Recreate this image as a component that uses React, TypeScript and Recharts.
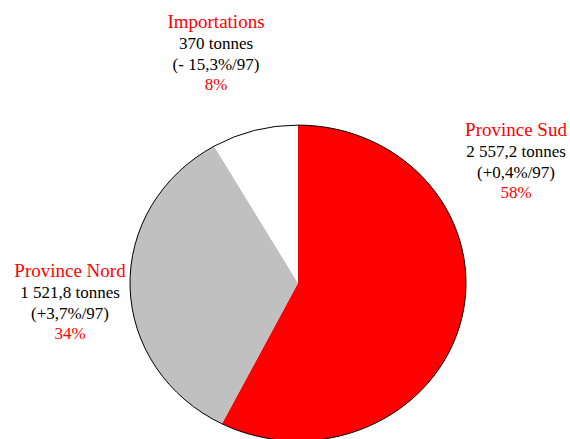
import React from 'react';
import { PieChart, Pie, Cell } from 'recharts';

const regions = ['Province Sud', 'Province Nord', 'Importations'];
const tonnages = [2557.2, 1521.8, 370];
const changes97 = [0.4, 3.7, -15.3];

const sliceColors = ['#FF0000', '#C0C0C0', '#FFFFFF'];

// label blocks sit where Excel dropped them, relative to the pie centre
const labelOffsets = [
  { dx: 218, dy: -147 },
  { dx: -228, dy: -6 },
  { dx: -82, dy: -255 },
];

const SQUASH = 0.94; // the original pie is a slightly flattened ellipse
const RAD = Math.PI / 180;
const FONT = "'Liberation Serif', 'Times New Roman', serif";

const data = regions.map((name, i) => ({ name, value: tonnages[i], change: changes97[i] }));

// whole percentages that add up to 100 (largest remainder), as printed on the original
const total = tonnages.reduce((a, b) => a + b, 0);
const rawPct = tonnages.map((v) => (v / total) * 100);
const roundedPct = rawPct.map(Math.floor);
let left = 100 - roundedPct.reduce((a, b) => a + b, 0);
rawPct
  .map((p, i) => ({ i, r: p - Math.floor(p) }))
  .sort((a, b) => b.r - a.r)
  .forEach(({ i }) => {
    if (left > 0) {
      roundedPct[i] += 1;
      left -= 1;
    }
  });

const formatTonnes = (v: number) => {
  const [i, d] = v.toFixed(1).split('.');
  const int = i.replace(/\B(?=(\d{3})+(?!\d))/g, ' ');
  return d === '0' ? int : `${int},${d}`;
};

const formatChange = (c: number) =>
  `(${c < 0 ? '- ' : '+'}${Math.abs(c).toFixed(1).replace('.', ',')}%/97)`;

const EllipseSector = (props: any) => {
  const { cx, cy, outerRadius, startAngle, endAngle, fill } = props;
  const rx = outerRadius;
  const ry = outerRadius * SQUASH;
  const pt = (a: number) => [cx + rx * Math.cos(-a * RAD), cy + ry * Math.sin(-a * RAD)];
  const [x0, y0] = pt(startAngle);
  const [x1, y1] = pt(endAngle);
  const large = Math.abs(startAngle - endAngle) > 180 ? 1 : 0;
  const sweep = startAngle > endAngle ? 1 : 0;
  const arc = `A ${rx} ${ry} 0 ${large} ${sweep} ${x1} ${y1}`;
  return (
    <g>
      <path d={`M ${cx} ${cy} L ${x0} ${y0} ${arc} Z`} fill={fill} stroke="none" />
      <path d={`M ${x0} ${y0} ${arc}`} fill="none" stroke="#000" strokeWidth={1} />
    </g>
  );
};

const renderLabel = (props: any) => {
  const { cx, cy, index, payload } = props;
  const off = labelOffsets[index];
  const x = cx + off.dx;
  const y = cy + off.dy;
  const item = payload?.payload ?? payload;
  return (
    <text x={x} y={y} textAnchor="middle" fontFamily={FONT} style={{ fontFamily: FONT }}>
      <tspan x={x} fontSize={19} fill="#FF0000" fontFamily={FONT}>{item.name}</tspan>
      <tspan x={x} dy={21} fontSize={17} fill="#000" fontFamily={FONT}>
        {formatTonnes(item.value)} tonnes
      </tspan>
      <tspan x={x} dy={20.7} fontSize={17} fill="#000" fontFamily={FONT}>
        {formatChange(item.change)}
      </tspan>
      <tspan x={x} dy={20.7} fontSize={17} fill="#FF0000" fontFamily={FONT}>
        {roundedPct[index]}%
      </tspan>
    </text>
  );
};

export default function App() {
  return (
    <div style={{ position: 'absolute', left: 0, top: 0, width: 570, height: 439, background: '#fff' }}>
      <PieChart width={570} height={439} margin={{ top: 0, right: 0, bottom: 0, left: 0 }}>
        <Pie
          data={data}
          dataKey="value"
          nameKey="name"
          cx={298}
          cy={283}
          outerRadius={168}
          startAngle={90}
          endAngle={-270}
          shape={EllipseSector}
          label={renderLabel}
          labelLine={false}
          isAnimationActive={false}
        >
          {data.map((d, i) => (
            <Cell key={d.name} fill={sliceColors[i]} />
          ))}
        </Pie>
      </PieChart>
    </div>
  );
}
